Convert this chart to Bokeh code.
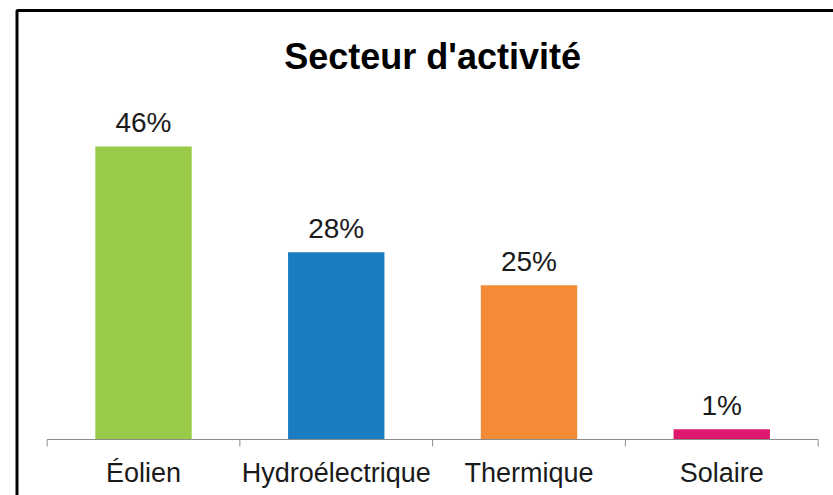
from bokeh.plotting import figure
from bokeh.models import Range1d, Label
from bokeh.core.properties import value
from bokeh.embed import file_html
from bokeh.resources import INLINE

# ---- data ----
categories = ["Éolien", "Hydroélectrique", "Thermique", "Solaire"]
values = [46.0, 29.4, 24.2, 1.6]
value_labels = ["46%", "28%", "25%", "1%"]
colors = ["#9ACB48", "#1A7CC2", "#F48B36", "#E0176E"]
title_text = "Secteur d'activité"

n = len(categories)
idx = list(range(n))
bounds = [i - 0.5 for i in range(n + 1)]

FONT = "Liberation Sans"

p = figure(width=833, height=495, output_backend="svg", toolbar_location=None,
           x_range=Range1d(-0.7004, 3.5798), y_range=Range1d(-8.79, 67.66),
           x_axis_location=None, y_axis_location=None,
           min_border_left=8, min_border_top=8, min_border_right=0, min_border_bottom=0,
           title=None)
p.grid.visible = False
p.outline_line_color = None
p.background_fill_color = "white"
p.border_fill_color = "white"

# bars
p.vbar(x=idx, top=values, bottom=0, width=0.5, fill_color=colors, line_color=None)

# category axis line and boundary ticks
p.segment(x0=[bounds[0]], y0=[0], x1=[bounds[-1]], y1=[0], line_color="#8C8C8C", line_width=1)
p.segment(x0=bounds, y0=[0] * len(bounds), x1=bounds, y1=[-1.1] * len(bounds),
          line_color="#8C8C8C", line_width=1)

# value labels
p.text(x=idx, y=values, text=value_labels, text_font=value(FONT), text_font_size="28px",
       text_align="center", text_baseline="alphabetic", y_offset=-24, text_color="#1a1a1a")

# category labels
p.text(x=idx, y=[0] * n, text=categories, text_font=value(FONT), text_font_size="27px",
       text_align="center", text_baseline="alphabetic", y_offset=33, text_color="#1a1a1a")

# chart border (left and top visible)
p.line(x=[-0.6563, -0.6563, 4.0], y=[-20, 67.35, 67.35], line_color="black", line_width=3)

# title
p.add_layout(Label(x=1.5, y=60.1, text=title_text, text_font=FONT, text_font_style="bold",
                   text_font_size="36px", text_align="center", text_baseline="middle",
                   text_color="black"))

open("out.html", "w").write(file_html(p, INLINE))
